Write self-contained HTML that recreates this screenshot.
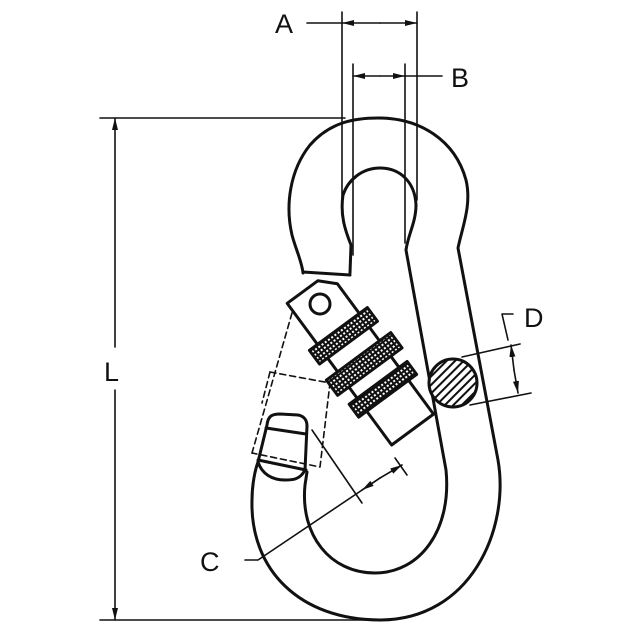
<!DOCTYPE html>
<html><head><meta charset="utf-8"><style>
html,body{margin:0;padding:0;background:#fff;}
svg{display:block;}
text{font-family:"Liberation Sans",sans-serif;font-size:27px;fill:#111;}
</style></head><body>
<svg width="640" height="640" viewBox="0 0 640 640" xmlns="http://www.w3.org/2000/svg">
<defs>
<pattern id="knurl" width="4" height="4" patternUnits="userSpaceOnUse">
<rect width="4" height="4" fill="#111"/><rect x="1" y="1" width="2" height="2" fill="#fff"/>
</pattern>
<pattern id="hatch" width="6" height="6" patternUnits="userSpaceOnUse" patternTransform="rotate(-45)">
<rect width="6" height="6" fill="#fff"/><rect width="6" height="2" fill="#111"/>
</pattern>
<marker id="ar" markerWidth="12" markerHeight="8" refX="12" refY="4" orient="auto" markerUnits="userSpaceOnUse">
<path d="M0,1 L12,4 L0,7 Z" fill="#111"/>
</marker>
</defs>
<g fill="none" stroke="#111" stroke-linecap="round" stroke-linejoin="round">
<!-- L dimension -->
<g stroke-width="1.6">
<line x1="100" y1="118" x2="345" y2="118"/>
<line x1="100" y1="620" x2="375" y2="620"/>
<line x1="115" y1="347" x2="115" y2="118" marker-end="url(#ar)"/>
<line x1="115" y1="390" x2="115" y2="620" marker-end="url(#ar)"/>
<!-- A -->
<line x1="307" y1="23" x2="342" y2="23"/>
<line x1="380" y1="23" x2="342" y2="23" marker-end="url(#ar)"/>
<line x1="380" y1="23" x2="417" y2="23" marker-end="url(#ar)"/>
<line x1="342" y1="12" x2="342" y2="198"/>
<line x1="417" y1="12" x2="417" y2="200"/>
<!-- B -->
<line x1="380" y1="76" x2="353" y2="76" marker-end="url(#ar)"/>
<line x1="380" y1="76" x2="405" y2="76" marker-end="url(#ar)"/>
<line x1="405" y1="76" x2="442" y2="76"/>
<line x1="353" y1="64" x2="353" y2="255"/>
<line x1="405" y1="64" x2="405" y2="243"/>
<!-- D -->
<line x1="462" y1="357" x2="520" y2="344"/>
<line x1="470" y1="405" x2="531" y2="393"/>
<polyline points="513,314 502,314 508,340"/>
<line x1="514" y1="370" x2="511" y2="345" marker-end="url(#ar)"/>
<line x1="514" y1="370" x2="518" y2="393" marker-end="url(#ar)"/>
<!-- C -->
<polyline points="245,560 258,560 380,478"/>
<line x1="380" y1="478" x2="362" y2="490" marker-end="url(#ar)"/>
<line x1="380" y1="478" x2="402" y2="465" marker-end="url(#ar)"/>
<line x1="395" y1="458" x2="407" y2="475"/>
<line x1="312" y1="430" x2="362" y2="503"/>
</g>
<!-- hook outline -->
<g stroke-width="3">
<path d="M303,273 C302,262 296,250 292,235 C285,205 290,170 310,145 C330,122 355,118 378,118 C420,118 455,140 466,180 C472,205 462,228 458,248 L498,460 C510,530 470,620 380,620 C300,620 250,570 252,500 C252,485 255,470 258,462"/>
<path d="M350,273 L351,245 C345,230 340,215 343,195 C348,180 362,168 380,168 C400,168 415,182 416,205 C416,222 408,235 406,250 L446,470 C452,530 420,573 375,573 C330,573 300,535 305,485 L307,472"/>
<line x1="303" y1="272" x2="350" y2="275"/>
<!-- tip -->
<path d="M258,462 L267,425 C268,416 272,414 280,414 L298,415 C304,416 307,420 307,426 L305,470 C300,480 292,480 285,480 C272,480 262,474 258,462"/>
<line x1="266" y1="428" x2="306" y2="434"/>
<line x1="258" y1="460" x2="306" y2="470"/>
</g>
<!-- dashed open gate -->
<g stroke-width="1.6" stroke-dasharray="6,4">
<line x1="292" y1="313" x2="252" y2="453"/>
<polyline points="270,372 330,383 320,467 252,453"/>
<line x1="303" y1="313" x2="342" y2="322"/>
<line x1="270" y1="372" x2="262" y2="403"/>
</g>
<!-- gate -->
<g transform="translate(320,304) rotate(53.6)" stroke-width="3">
<polygon points="-20,26 156,26 156,-26 -6,-26 -20,-12" fill="#fff"/>
<rect x="31" y="-36" width="17" height="72" fill="url(#knurl)"/>
<rect x="65" y="-40" width="19" height="80" fill="url(#knurl)"/>
<rect x="98" y="-36" width="16" height="72" fill="url(#knurl)"/>
</g>
<circle cx="320" cy="304" r="10" stroke-width="3" fill="#fff"/>
<!-- cross section -->
<circle cx="453" cy="383" r="24" stroke-width="3" fill="url(#hatch)"/>
</g>
<rect x="100" y="350" width="30" height="38" fill="#fff"/>
<text x="104" y="381">L</text>
<text x="275" y="33">A</text>
<text x="451" y="87">B</text>
<text x="524" y="327">D</text>
<text x="200" y="571">C</text>
</svg>
</body></html>
